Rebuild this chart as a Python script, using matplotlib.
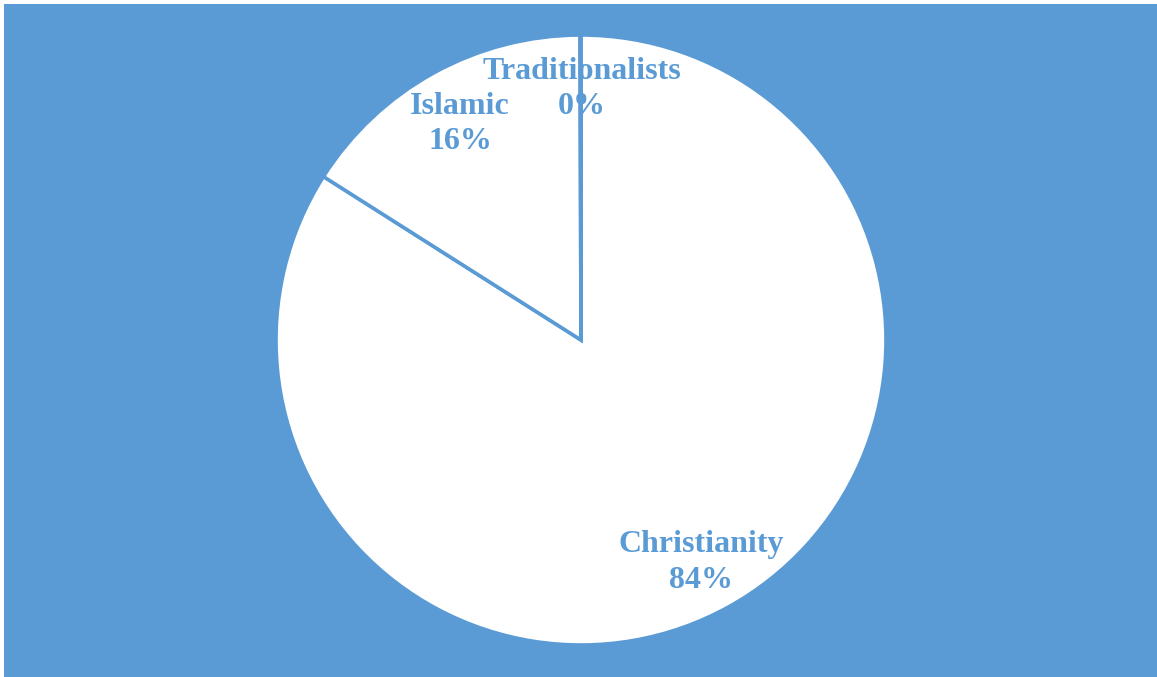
import matplotlib
matplotlib.use('Agg')
import matplotlib.pyplot as plt
from matplotlib.patches import Rectangle

# religion shares (percent)
categories = ['Christianity', 'Islamic', 'Traditionalists']
shares = [84.0, 15.95, 0.05]
pct_labels = ['84%', '16%', '0%']

blue = '#5B9BD5'
W, H = 1157, 677
cx, cy, r = 581, 340, 305   # pie centre / radius in pixels

fig = plt.figure(figsize=(W / 100, H / 100), dpi=100, facecolor='white')
fig.add_artist(Rectangle((4 / W, 0), 1, (H - 4) / H, transform=fig.transFigure,
                         facecolor=blue, edgecolor='none', zorder=-5))

ax = fig.add_axes([0, 0, 1, 1])
labels = [f'{c}\n{p}' for c, p in zip(categories, pct_labels)]
wedges, texts = ax.pie(shares, labels=labels, startangle=90, counterclock=False,
                       colors=['white'] * len(shares), labeldistance=0.82,
                       wedgeprops=dict(edgecolor=blue, linewidth=2.6),
                       textprops=dict(family='Liberation Serif', fontweight='bold',
                                      fontsize=23, color=blue, linespacing=1.3))
# nudge labels a few pixels down, centre them like the original
for t in texts:
    x, y = t.get_position()
    t.set_position((x, y - 0.01))
    t.set_ha('center')
    t.set_va('center')
texts[2].set_position((0.003, 0.823))

ax.set_aspect('auto')
ax.set_xlim(-cx / r, (W - cx) / r)
ax.set_ylim(-(H - cy) / r, cy / r)

fig.savefig('out.png', dpi=100, facecolor='white')
